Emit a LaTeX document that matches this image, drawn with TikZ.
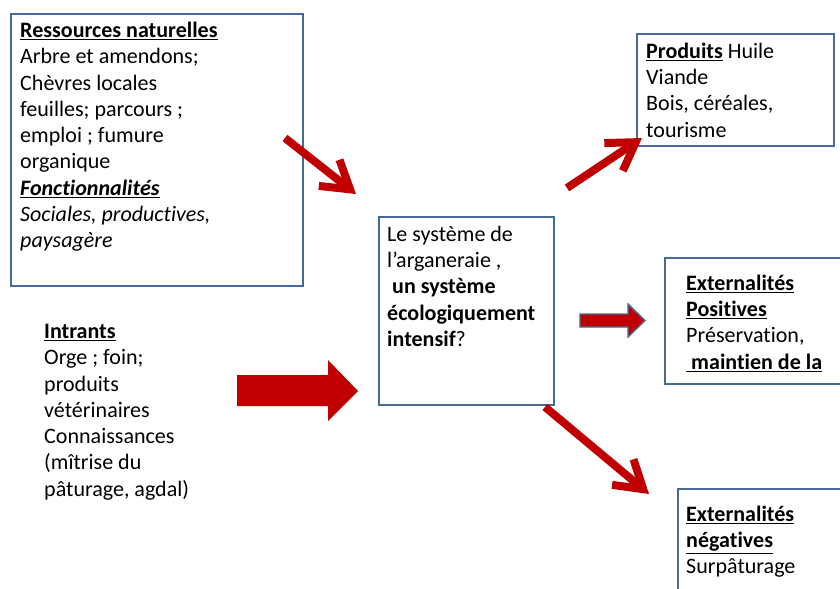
\documentclass[tikz,border=0pt]{standalone}
\usepackage{fontspec}
\setmainfont{Carlito}[Ligatures=NoCommon]
\usepackage{tikz}
\usetikzlibrary{arrows.meta}
\definecolor{boxblue}{RGB}{70,106,150}
\definecolor{arrowred}{RGB}{192,0,0}

\begin{document}
\begin{tikzpicture}[x=0.03cm,y=-0.03cm,
  box/.style={draw=boxblue, line width=1.6pt, inner sep=0pt, anchor=north west},
  txt/.style={anchor=base west, inner sep=0pt, align=left,
    font=\fontsize{18.8}{22.4}\selectfont},
  redarrow/.style={draw=arrowred, line width=6.8pt,
    -{Straight Barb[length=0.8cm, width=1.0cm]}}]
  \useasboundingbox (0,0) rectangle (840,589);
  \clip (0,0) rectangle (840,589);

  % boxes
  \node[box, minimum width=8.76cm, minimum height=8.16cm] (res) at (10,12.7) {};
  \node[box, minimum width=5.25cm, minimum height=5.64cm] (cen) at (378,216) {};
  \node[box, minimum width=5.91cm, minimum height=3.36cm] (prod) at (636,33) {};
  \node[box, minimum width=6cm, minimum height=3.78cm] (pos) at (664,257) {};
  \node[box, minimum width=6cm, minimum height=4.5cm] (neg) at (677,488) {};

  % texts (placed at the baseline of their last line)
  \node[txt] (restext) at (20,247.7) {\underline{\textbf{Ressources naturelles}}\\
    Arbre et amendons;\\ Chèvres locales\\ feuilles; parcours ;\\
    emploi ; fumure\\ organique\\ \underline{\textbf{\textit{Fonctionnalités}}}\\
    \textit{Sociales, productives,}\\ \textit{paysagère}};
  \node[txt] (centext) at (387,346.4) {Le système de\\ l’arganeraie ,\\
    \textbf{\ un système}\\ \textbf{écologiquement}\\ \textbf{intensif}?};
  \node[txt] (prodtext) at (646,137) {\underline{\textbf{Produits}} Huile\\
    Viande\\ Bois, céréales,\\ tourisme};
  \node[txt] (postext) at (686,369) {\underline{\textbf{Externalités}}\\
    \underline{\textbf{Positives}}\\ Préservation,\\ \underline{\textbf{\ maintien de la}}};
  \node[txt] (negtext) at (686,573.7) {\underline{\textbf{Externalités}}\\
    \underline{\textbf{négatives}}\\ Surpâturage};
  \node[txt] (inttext) at (44,496) {\underline{\textbf{Intrants}}\\
    Orge ; foin;\\ produits\\ vétérinaires\\ Connaissances\\
    (mîtrise du\\ pâturage, agdal)};

  % arrow ends
  \coordinate (a1) at (285,138);
  \coordinate (b1) at (356,194);
  \coordinate (a2) at (567,188);
  \coordinate (b2) at (642,138);
  \coordinate (a3) at (545,407);
  \coordinate (b3) at (649,494);

  \draw[redarrow] (a1) -- (b1);
  \draw[redarrow] (a2) -- (b2);
  \draw[redarrow] (a3) -- (b3);

  % block arrows
  \fill[arrowred] (237,375) -- (328,375) -- (328,360) -- (358,391)
    -- (328,421) -- (328,406) -- (237,406) -- cycle;
  \filldraw[fill=arrowred, draw=boxblue, line width=1.2pt] (580,314) -- (628,314)
    -- (628,304) -- (645,320.5) -- (628,337) -- (628,327) -- (580,327) -- cycle;
\end{tikzpicture}
\end{document}
